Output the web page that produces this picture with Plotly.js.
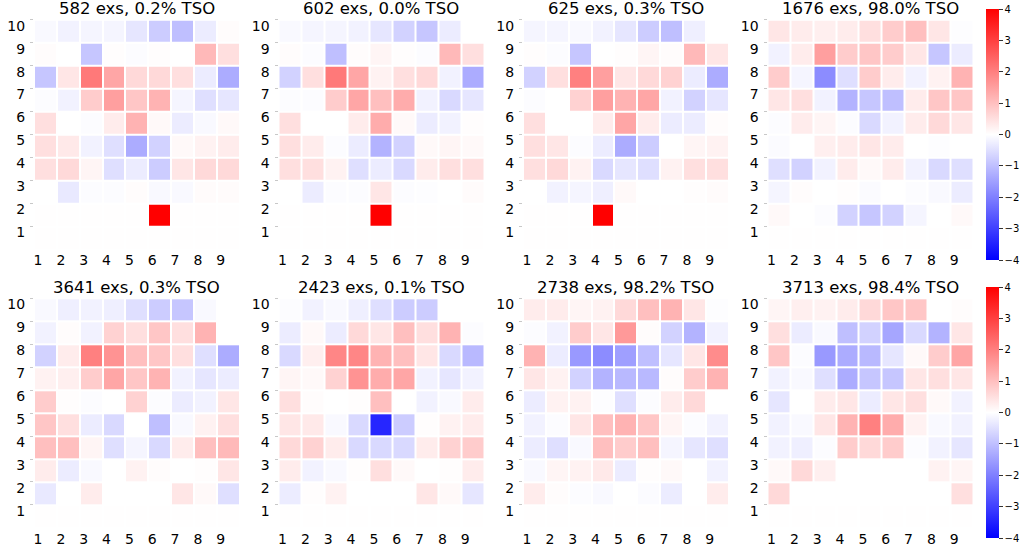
<!DOCTYPE html>
<html>
<head>
<meta charset="utf-8">
<script src="https://cdn.plot.ly/plotly-3.0.1.min.js"></script>
<style>html,body{margin:0;padding:0;background:#fff;}#chart{width:1021px;height:550px;}</style>
</head>
<body>
<div id="chart"></div>
<script>
// Column and row labels
const cols = [1, 2, 3, 4, 5, 6, 7, 8, 9];
const rows = [1, 2, 3, 4, 5, 6, 7, 8, 9, 10];

// Panel titles
const titles = [
  "582 exs, 0.2% TSO", "602 exs, 0.0% TSO", "625 exs, 0.3% TSO", "1676 exs, 98.0% TSO",
  "3641 exs, 0.3% TSO", "2423 exs, 0.1% TSO", "2738 exs, 98.2% TSO", "3713 exs, 98.4% TSO"
];

// Values, listed from row 10 (top) down to row 1 (bottom), columns 1..9
const p582 = [
  [-0.1, -0.2, -0.15, -0.15, -0.4, -0.8, -1.0, -0.3, 0.05],
  [0.05, 0, -0.9, 0.03, -0.05, 0.03, 0, 1.1, 0.5],
  [-0.9, 0.4, 2.1, 1.4, 0.6, 0.6, 0.5, -0.3, -1.3],
  [-0.05, -0.2, 0.8, 1.5, 0.9, 1.2, -0.15, -0.5, -0.4],
  [0.5, 0, -0.05, 0.3, 1.2, 0.1, -0.3, -0.1, 0.1],
  [0.5, 0.35, -0.2, -0.5, -1.3, -0.7, 0.1, 0.2, 0.3],
  [0.5, 0.6, 0.15, -0.5, -0.3, -0.8, 0.4, 0.6, 0.6],
  [0, -0.35, -0.05, -0.05, 0.05, -0.1, -0.1, 0.07, 0.07],
  [0.02, 0.02, 0.02, 0.02, 0.02, 4, 0.02, 0.02, 0.02],
  [0.02, 0.02, 0.02, 0.02, 0.02, 0.02, 0.02, 0.02, 0.02]
];
const p602 = [
  [-0.1, -0.15, -0.15, -0.2, -0.4, -0.7, -0.9, -0.3, 0],
  [0.05, -0.05, -1.0, 0.05, 0.15, 0.03, -0.05, 1.1, 0.5],
  [-0.7, 0.5, 2.1, 1.4, 0.2, 0.5, 0.6, -0.2, -1.3],
  [-0.05, -0.05, 0.8, 1.4, 1.0, 1.3, -0.2, -0.6, -0.4],
  [0.5, 0, 0, 0.3, 1.3, 0.1, -0.3, -0.2, 0.03],
  [0.5, 0.3, -0.05, -0.3, -1.2, -0.7, 0.1, 0.15, 0.1],
  [0.5, 0.5, 0.2, -0.5, -0.3, -0.6, 0.3, 0.5, 0.5],
  [0, -0.3, -0.05, -0.05, 0.4, -0.05, -0.03, 0, 0.07],
  [0.02, 0.02, 0.02, 0.02, 4, 0.02, 0.02, 0.02, 0.02],
  [0.02, 0.02, 0.02, 0.02, 0.02, 0.02, 0.02, 0.02, 0.02]
];
const p625 = [
  [-0.15, -0.15, -0.1, -0.2, -0.4, -0.8, -1.0, -0.25, 0],
  [0.03, -0.05, -0.9, 0, 0.03, 0.15, 0.05, 1.1, 0.4],
  [-0.7, 0.5, 2.0, 1.5, 0.4, 0.6, 0.7, -0.3, -1.3],
  [-0.05, 0, 0.7, 1.5, 1.2, 1.4, -0.2, -0.7, -0.4],
  [0.5, 0, 0, 0.3, 1.4, 0.3, -0.3, -0.3, 0.05],
  [0.5, 0.4, -0.05, -0.3, -1.3, -0.8, 0, 0.15, 0.2],
  [0.5, 0.6, 0.2, -0.6, -0.4, -0.5, 0.2, 0.5, 0.5],
  [0, -0.2, -0.15, -0.25, 0.1, 0, 0, 0.03, 0.07],
  [0.02, 0.02, 0.02, 4, 0.02, 0.02, 0.02, 0.02, 0.02],
  [0.02, 0.02, 0.02, 0.02, 0.02, 0.02, 0.02, 0.02, 0.02]
];
const p1676 = [
  [0.4, 0.3, 0.25, 0.3, 0.5, 0.8, 1.0, 0.4, -0.03],
  [-0.2, 0.3, 1.5, 0.8, 0.9, 0.8, 0.4, -0.9, -0.3],
  [0.8, -0.15, -1.8, -0.5, 0.8, 0.3, -0.2, 0.2, 1.2],
  [0.4, 0.5, -0.2, -1.2, -0.9, -1.0, 0.3, 0.9, 0.9],
  [-0.05, 0.3, 0.15, -0.05, -0.6, -0.2, 0.3, 0.6, 0.4],
  [-0.07, 0, 0.25, 0.3, 0.4, 0.3, 0, -0.03, 0],
  [-0.5, -0.7, -0.2, 0.3, 0.1, 0.3, -0.2, -0.6, -0.5],
  [-0.15, 0.05, 0, 0.03, -0.07, 0, -0.05, -0.1, -0.3],
  [0.1, 0, -0.05, -0.7, -0.9, -0.7, -0.15, 0, 0.1],
  [0.02, 0.02, 0.02, 0.02, 0.02, 0.02, 0.02, 0.02, 0.02]
];
const p3641 = [
  [-0.1, -0.25, -0.2, -0.25, -0.5, -0.8, -0.9, -0.1, 0],
  [-0.2, 0.05, -0.2, 0.7, 0.5, 0.9, 0.5, 1.2, 0],
  [-0.7, 0.3, 2.0, 1.7, 1.0, 0.9, 0.5, -0.5, -1.3],
  [0.2, 0.25, 0.8, 1.4, 0.9, 1.2, -0.2, -0.4, -0.3],
  [0.8, 0.03, -0.05, 0, 0.7, -0.05, -0.3, -0.2, 0.4],
  [0.9, 0.5, -0.3, -0.6, 0, -1.0, -0.1, 0.2, 0.5],
  [1.0, 1.0, 0.15, -0.5, -0.15, -0.6, 0.3, 1.0, 1.1],
  [0.3, -0.3, -0.1, 0, 0.2, 0.05, 0, 0.03, 0.4],
  [-0.35, 0, 0.3, 0, 0, 0, 0.4, 0.1, -0.5],
  [0.02, 0.02, 0.02, 0.02, 0.02, 0.02, 0.02, 0.02, 0.02]
];
const p2423 = [
  [-0.05, -0.2, -0.1, -0.25, -0.5, -0.8, -0.8, 0, 0],
  [-0.3, 0.1, -0.3, 0.6, 0.4, 1.0, 0.5, 1.2, -0.05],
  [-0.6, 0.25, 1.9, 1.9, 1.2, 1.0, 0.4, -0.6, -1.1],
  [0.15, 0.1, 0.7, 1.7, 1.3, 1.4, -0.2, -0.4, -0.2],
  [0.5, 0.05, 0, 0.03, 1.0, 0, -0.2, -0.1, 0.3],
  [0.4, 0.35, -0.1, -0.6, -3.4, -0.8, 0.03, 0.2, 0.3],
  [0.6, 0.7, 0.3, -0.6, -0.6, -0.6, 0.3, 0.7, 0.8],
  [0.3, -0.2, -0.1, 0.03, 0.5, 0.1, 0, 0.03, 0.3],
  [-0.3, 0.03, 0.2, 0, 0, 0, 0.4, 0.1, -0.4],
  [0.02, 0.02, 0.02, 0.02, 0.02, 0.02, 0.02, 0.02, 0.02]
];
const p2738 = [
  [0.3, 0.3, 0.15, 0.2, 0.6, 1.0, 1.2, 0.4, -0.03],
  [-0.05, -0.2, 0.8, 0.4, 1.6, 0.05, -0.7, -1.2, -0.2],
  [1.2, -0.3, -1.6, -1.8, -1.5, -1.0, -0.4, 0.4, 1.8],
  [0.4, 0.2, -0.7, -1.2, -1.1, -1.1, 0.05, 0.8, 1.2],
  [-0.3, 0.2, 0.2, -0.03, -0.5, -0.05, 0.3, 0.6, 0],
  [-0.2, -0.05, 0.4, 1.0, 1.2, 0.9, 0.15, -0.05, -0.2],
  [-0.3, -0.5, -0.1, 1.0, 0.8, 1.0, -0.15, -0.4, -0.5],
  [-0.1, 0.15, 0.2, 0.35, -0.3, 0.03, 0.1, 0, -0.2],
  [0.3, 0.05, -0.05, -0.1, 0, -0.07, -0.3, 0, 0.3],
  [0.02, 0.02, 0.02, 0.02, 0.02, 0.02, 0.02, 0.02, 0.02]
];
const p3713 = [
  [0.15, 0.25, 0.2, 0.3, 0.6, 0.9, 0.9, 0, 0.05],
  [0.5, -0.3, -0.1, -1.0, -0.7, -1.4, -0.6, -1.2, 0.4],
  [0.9, -0.05, -1.6, -1.3, -1.1, -0.4, 0.1, 0.8, 1.4],
  [-0.2, -0.1, -0.5, -1.3, -0.9, -0.9, 0.4, 0.5, 0.4],
  [-0.4, 0, 0.3, 0.4, -0.3, 0.4, 0.5, 0.1, -0.2],
  [-0.2, -0.1, 0.4, 1.2, 2.0, 1.3, 0.2, -0.1, -0.2],
  [-0.2, -0.25, -0.05, 0.8, 0.6, 0.8, -0.05, -0.2, -0.4],
  [0.1, 0.6, 0.25, 0, 0, 0, 0, 0.2, 0.15],
  [0.6, 0, 0, 0, 0, 0, 0, 0, 0.5],
  [0.02, 0.02, 0.02, 0.02, 0.02, 0.02, 0.02, 0.02, 0.02]
];
const panels = [p582, p602, p625, p1676, p3641, p2423, p2738, p3713];
const cbTicks = [-4, -3, -2, -1, 0, 1, 2, 3, 4];

// ---- layout geometry (pixels) ----
const W = 1021, H = 550;
const FONT = "DejaVu Sans, sans-serif";
const colLeft = [34, 278.5, 523, 767.5];
const panelW = 205.5;
const rowTop = [19.7, 298.3];
const panelH = 229.6;
const titleY = [9, 287.5];

const bwr = [[0, 'rgb(0,0,255)'], [0.5, 'rgb(255,255,255)'], [1, 'rgb(255,0,0)']];

const data = [];
const layout = {
  width: W, height: H,
  margin: {l: 0, r: 0, t: 0, b: 0},
  paper_bgcolor: '#fff', plot_bgcolor: '#fff',
  font: {family: FONT, color: '#000'},
  showlegend: false,
  annotations: []
};

panels.forEach((p, i) => {
  const r = Math.floor(i / 4), c = i % 4;
  const xa = 'xaxis' + (i === 0 ? '' : i + 1);
  const ya = 'yaxis' + (i === 0 ? '' : i + 1);
  const xs = 'x' + (i === 0 ? '' : i + 1);
  const ys = 'y' + (i === 0 ? '' : i + 1);
  data.push({
    type: 'heatmap',
    x: cols, y: rows,
    z: p.slice().reverse(),
    xaxis: xs, yaxis: ys,
    xgap: 2, ygap: 2,
    coloraxis: r === 0 ? 'coloraxis' : 'coloraxis2',
    hoverinfo: 'x+y+z'
  });
  const x0 = colLeft[c] / W, x1 = (colLeft[c] + panelW) / W;
  const yTop = 1 - rowTop[r] / H, yBot = 1 - (rowTop[r] + panelH) / H;
  layout[xa] = {
    domain: [x0, x1], anchor: ys,
    range: [0.5, 9.5],
    tickmode: 'array',
    tickvals: cols.map(v => v - 0.5),
    ticktext: cols.map(String),
    ticks: '', showgrid: false, zeroline: false, showline: false,
    tickfont: {size: 14, family: FONT, color: '#000'},
    ticklabelshift: 4, ticklabelstandoff: 1,
    fixedrange: true
  };
  layout[ya] = {
    domain: [yBot, yTop], anchor: xs,
    range: [0.5, 10.5],
    tickmode: 'array',
    tickvals: rows.map(v => v + 0.5),
    ticktext: rows.map(String),
    ticks: 'outside', ticklen: 3, tickwidth: 1, tickcolor: '#c8c8c8',
    showgrid: false, zeroline: false, showline: false,
    tickfont: {size: 14, family: FONT, color: '#000'},
    ticklabelshift: 6, ticklabelstandoff: 2,
    fixedrange: true
  };
  layout.annotations.push({
    text: titles[i],
    xref: 'paper', yref: 'paper',
    x: (x0 + x1) / 2, y: 1 - titleY[r] / H,
    xanchor: 'center', yanchor: 'middle',
    showarrow: false,
    font: {size: 16.5, family: FONT, color: '#000'}
  });
});

function cbar(topPx) {
  return {
    colorscale: bwr, cmin: -4, cmax: 4,
    colorbar: {
      x: 986 / W, xanchor: 'left', xref: 'paper', xpad: 0,
      y: 1 - topPx / H, yanchor: 'top', yref: 'paper', ypad: 0,
      lenmode: 'pixels', len: 251,
      thicknessmode: 'pixels', thickness: 13,
      outlinewidth: 0,
      ticks: 'outside', ticklen: 4, tickwidth: 1, tickcolor: '#333',
      tickmode: 'array', tickvals: cbTicks, ticktext: cbTicks.map(v => v < 0 ? '\u2212' + Math.abs(v) : String(v)),
      tickfont: {size: 10, family: FONT, color: '#000'}
    }
  };
}
layout.coloraxis = cbar(9);
layout.coloraxis2 = cbar(287);

Plotly.newPlot('chart', data, layout, {displayModeBar: false, staticPlot: true});
</script>
</body>
</html>
